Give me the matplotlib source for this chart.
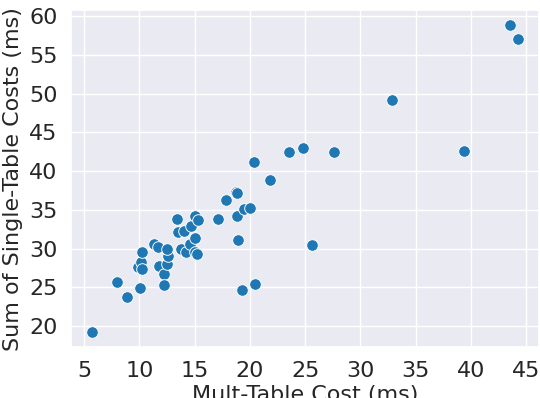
import matplotlib
matplotlib.use("Agg")
import matplotlib.pyplot as plt
import seaborn as sns
import pandas as pd

# mult-table cost vs sum of single-table costs (ms)
mult_cost = [5.7, 8.0, 8.85, 10.05, 9.85, 10.15, 10.2, 10.25, 11.3, 11.65,
             11.8, 12.2, 12.2, 12.5, 12.6, 12.5, 13.4, 13.5, 14.05, 13.8,
             14.2, 14.55, 14.65, 15.0, 15.3, 15.0, 15.05, 15.2, 17.15, 17.85,
             18.75, 18.85, 18.85, 18.9, 19.45, 20.0, 19.3, 20.4, 20.45, 21.85,
             23.5, 24.85, 25.65, 27.65, 32.85, 39.4, 43.55, 44.25]
single_sum = [19.2, 25.7, 23.7, 24.9, 27.6, 28.2, 27.4, 29.5, 30.55, 30.2,
              27.7, 26.75, 25.3, 28.05, 29.05, 29.9, 33.8, 32.15, 32.3, 30.0,
              29.55, 30.6, 32.9, 34.15, 33.7, 31.4, 29.5, 29.25, 33.85, 36.25,
              37.35, 37.2, 34.25, 31.15, 35.1, 35.25, 24.65, 41.15, 25.4, 38.9,
              42.45, 42.95, 30.4, 42.5, 49.2, 42.6, 58.85, 57.1]

df = pd.DataFrame({"mult": mult_cost, "single": single_sum})

sns.set_theme(style="darkgrid")

fig, ax = plt.subplots(figsize=(5.4, 3.98), dpi=100)
sns.scatterplot(data=df, x="mult", y="single", s=70, color="#1f77b4", ax=ax)
ax.set_xticks(range(5, 50, 5))
ax.set_yticks(range(20, 65, 5))
ax.tick_params(labelsize=16)
ax.set_xlabel("Mult-Table Cost (ms)", fontsize=16, labelpad=3)
ax.set_ylabel("Sum of Single-Table Costs (ms)", fontsize=16)
fig.subplots_adjust(left=0.131, right=0.998, top=0.975, bottom=0.127)
fig.savefig("out.png")
